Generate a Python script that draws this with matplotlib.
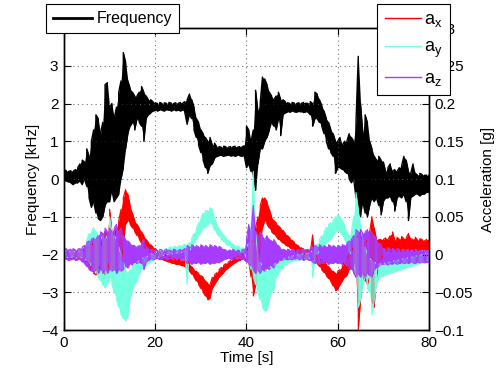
import numpy as np
import matplotlib
matplotlib.use("Agg")
import matplotlib.pyplot as plt
from matplotlib.lines import Line2D

plt.rcParams['font.family'] = ['Liberation Sans', 'DejaVu Sans']
plt.rcParams['font.size'] = 11
plt.rcParams['mathtext.fontset'] = 'custom'
plt.rcParams['mathtext.rm'] = 'Liberation Sans'

# ---------------- data (0.5 s sampling of envelopes, 0 .. 80 s) ----------------
freq_lo = [
    -0.05,-0.05,-0.08,-0.10,-0.15,-0.10,-0.10,-0.05,-0.15,0.00,
    -0.20,-0.50,-0.75,-0.60,-0.90,-1.05,-1.10,-1.00,-0.70,-0.60,
    -0.60,-0.30,-0.60,-0.50,-0.40,0.00,0.30,0.80,1.20,1.40,
    1.50,1.30,1.60,1.50,1.40,1.00,1.60,1.70,1.75,1.80,
    1.82,1.80,1.83,1.82,1.80,1.84,1.82,1.80,1.83,1.81,
    1.82,1.80,1.83,1.75,1.45,1.70,1.60,1.30,1.10,0.90,
    0.70,0.50,0.30,0.15,0.35,0.40,0.55,0.60,0.62,0.63,
    0.60,0.62,0.63,0.61,0.62,0.60,0.63,0.62,0.60,0.62,
    0.30,0.40,0.20,0.10,-0.30,0.40,0.80,0.80,1.00,1.10,
    1.30,1.50,1.40,1.30,1.60,1.15,1.70,1.75,1.78,1.77,
    1.80,1.78,1.77,1.79,1.78,1.76,1.78,1.77,1.70,1.40,
    1.60,1.60,1.50,1.40,1.20,1.00,0.80,0.70,0.60,0.15,
    0.30,0.30,0.25,0.20,0.15,0.00,-0.10,0.00,-0.50,-0.80,
    -1.00,-0.60,-0.90,-1.00,-0.70,-0.50,-0.60,-0.50,-0.70,-0.95,
    -0.60,-0.50,-0.50,-0.45,-0.60,-0.85,-0.50,-0.45,-0.50,-0.40,
    -0.60,-1.10,-0.50,-0.45,-0.40,-0.40,-0.45,-0.40,-0.40,-0.35,
    -0.35]
freq_hi = [
    0.25,0.22,0.20,0.22,0.20,0.25,0.30,0.40,0.50,0.45,
    0.80,0.60,1.00,1.30,1.70,1.60,1.20,1.50,2.50,2.55,
    1.90,2.00,1.60,1.90,2.30,2.60,3.35,3.10,2.60,2.40,
    2.30,2.20,2.20,2.30,2.45,2.30,2.20,2.10,2.10,2.05,
    2.02,2.00,2.03,2.00,2.02,2.00,2.03,2.01,2.00,2.02,
    2.00,2.03,2.01,2.05,2.10,2.25,2.10,1.90,1.60,1.50,
    1.30,1.20,1.10,1.00,1.10,0.90,0.95,0.85,0.86,0.84,
    0.87,0.85,0.84,0.86,0.85,0.87,0.84,0.86,0.85,0.88,
    1.40,1.30,1.00,1.30,2.35,1.80,2.00,2.70,2.65,2.50,
    2.30,2.20,2.10,2.20,2.30,2.10,2.10,2.05,2.02,2.00,
    2.03,2.01,2.00,2.02,2.00,2.03,2.01,2.00,2.05,2.00,
    2.30,2.25,2.10,1.95,1.80,1.60,1.50,1.30,1.20,1.00,
    1.00,1.10,0.90,1.00,1.00,1.20,1.10,1.00,1.50,3.25,
    2.00,1.20,1.70,1.50,1.00,0.80,0.60,0.50,0.60,0.50,
    0.45,0.20,0.30,0.40,0.20,0.25,0.20,0.30,0.35,0.60,
    0.50,0.20,0.15,0.40,0.15,0.10,0.15,0.12,0.10,0.10,
    0.10]

ax_lo = [
    -0.005,-0.004,-0.006,-0.005,-0.004,-0.006,-0.005,-0.004,-0.006,-0.007,
    -0.010,-0.015,-0.020,-0.025,-0.027,-0.020,-0.015,-0.020,-0.027,-0.020,
    -0.010,-0.015,-0.020,-0.025,-0.020,-0.010,0.010,0.040,0.045,0.040,
    0.035,0.030,0.025,0.020,0.015,0.010,0.008,0.005,0.003,0.002,
    0.000,-0.003,-0.005,-0.006,-0.008,-0.009,-0.010,-0.011,-0.012,-0.013,
    -0.013,-0.014,-0.015,-0.016,-0.018,-0.022,-0.026,-0.030,-0.035,-0.040,
    -0.045,-0.050,-0.055,-0.060,-0.058,-0.045,-0.040,-0.035,-0.030,-0.027,
    -0.024,-0.020,-0.018,-0.015,-0.013,-0.011,-0.009,-0.008,-0.006,-0.005,
    -0.008,-0.010,-0.030,-0.055,-0.040,-0.010,0.010,0.035,0.045,0.040,
    0.035,0.030,0.027,0.024,0.020,0.018,0.015,0.013,0.011,0.009,
    0.007,0.005,0.004,0.003,0.002,0.001,0.000,-0.001,-0.002,-0.005,
    -0.008,-0.012,-0.016,-0.020,-0.024,-0.028,-0.032,-0.036,-0.042,-0.048,
    -0.046,-0.040,-0.035,-0.030,-0.028,-0.020,-0.015,-0.010,-0.030,-0.100,
    -0.060,-0.030,-0.035,-0.040,-0.030,-0.060,-0.070,-0.030,-0.015,-0.008,
    0.000,0.004,0.006,0.003,0.005,0.007,0.004,0.006,0.003,0.005,
    0.006,0.004,0.007,0.005,0.004,0.006,0.005,0.007,0.005,0.006,
    0.006]
ax_hi = [
    0.004,0.005,0.003,0.004,0.005,0.003,0.004,0.005,0.004,0.006,
    0.008,0.010,0.015,0.012,0.020,0.015,0.010,0.020,0.030,0.025,
    0.060,0.030,0.020,0.035,0.045,0.060,0.075,0.086,0.080,0.065,
    0.055,0.045,0.040,0.035,0.030,0.025,0.020,0.016,0.013,0.010,
    0.008,0.005,0.002,0.000,-0.001,-0.002,-0.003,-0.004,-0.005,-0.006,
    -0.006,-0.007,-0.008,-0.009,-0.008,-0.012,-0.016,-0.020,-0.022,-0.025,
    -0.028,-0.030,-0.035,-0.038,-0.040,-0.030,-0.027,-0.024,-0.020,-0.017,
    -0.014,-0.012,-0.010,-0.008,-0.006,-0.004,-0.003,-0.002,0.000,0.002,
    0.004,0.010,0.015,0.020,0.035,0.050,0.065,0.075,0.075,0.070,
    0.060,0.050,0.045,0.042,0.038,0.035,0.032,0.028,0.025,0.022,
    0.019,0.016,0.013,0.011,0.009,0.007,0.006,0.005,0.004,0.026,
    0.000,-0.003,-0.006,-0.008,-0.010,-0.013,-0.016,-0.020,-0.022,-0.025,
    -0.022,-0.020,-0.015,-0.010,-0.005,0.000,0.005,0.010,0.020,0.026,
    0.020,0.025,0.015,0.020,0.030,0.050,0.035,0.020,0.020,0.020,
    0.020,0.022,0.020,0.025,0.030,0.019,0.023,0.020,0.024,0.021,
    0.022,0.028,0.021,0.020,0.023,0.019,0.021,0.020,0.018,0.020,
    0.019]

ay_lo = [
    -0.004,-0.003,-0.005,-0.004,-0.003,-0.005,-0.004,-0.003,-0.005,-0.006,
    -0.008,-0.010,-0.015,-0.020,-0.025,-0.030,-0.035,-0.040,-0.044,-0.040,
    -0.030,-0.040,-0.050,-0.060,-0.070,-0.080,-0.085,-0.088,-0.083,-0.060,
    -0.045,-0.040,-0.035,-0.025,-0.020,-0.018,-0.015,-0.012,-0.010,-0.008,
    -0.006,-0.004,-0.003,-0.002,-0.001,0.000,0.000,0.001,0.001,0.002,
    0.002,0.003,0.003,0.004,-0.040,0.005,0.010,0.015,0.020,0.025,
    0.030,0.035,0.036,0.040,0.042,0.040,0.032,0.028,0.024,0.020,
    0.017,0.014,0.012,0.010,0.008,0.006,0.005,0.004,0.003,0.002,
    -0.005,-0.010,-0.020,-0.030,-0.040,-0.050,-0.060,-0.070,-0.075,-0.074,
    -0.060,-0.050,-0.046,-0.030,-0.025,-0.020,-0.017,-0.014,-0.012,-0.010,
    -0.009,-0.008,-0.008,-0.007,-0.007,-0.006,-0.006,-0.005,-0.005,-0.030,
    -0.003,0.000,0.005,0.010,0.012,0.015,0.018,0.020,0.025,0.030,
    0.032,0.030,0.025,0.020,0.015,0.005,0.000,-0.010,-0.030,-0.070,
    -0.060,-0.040,-0.030,-0.045,-0.050,-0.080,-0.060,-0.040,-0.030,-0.030,
    -0.028,-0.027,-0.026,-0.025,-0.024,-0.023,-0.022,-0.021,-0.020,-0.019,
    -0.018,-0.017,-0.016,-0.015,-0.014,-0.013,-0.012,-0.011,-0.010,-0.008,
    -0.007]
ay_hi = [
    0.004,0.005,0.003,0.004,0.005,0.003,0.004,0.005,0.008,0.012,
    0.020,0.028,0.030,0.036,0.030,0.025,0.020,0.025,0.020,0.025,
    0.050,0.030,0.025,0.020,0.010,0.000,-0.010,-0.020,-0.025,-0.020,
    -0.015,-0.012,-0.010,-0.008,-0.005,-0.004,-0.003,-0.002,0.000,0.001,
    0.002,0.004,0.005,0.006,0.007,0.008,0.009,0.010,0.010,0.011,
    0.011,0.012,0.012,0.014,0.012,0.016,0.022,0.028,0.035,0.042,
    0.048,0.055,0.058,0.058,0.062,0.060,0.048,0.040,0.034,0.030,
    0.026,0.022,0.019,0.016,0.014,0.012,0.011,0.010,0.009,0.008,
    0.010,0.015,0.030,0.110,0.030,0.000,-0.010,-0.015,-0.020,-0.022,
    -0.018,-0.015,-0.013,-0.011,-0.010,-0.008,-0.006,-0.005,-0.004,-0.003,
    -0.002,-0.001,-0.001,0.000,0.000,0.001,0.001,0.002,0.003,0.005,
    0.010,0.014,0.020,0.025,0.030,0.036,0.040,0.042,0.045,0.050,
    0.053,0.050,0.045,0.038,0.030,0.025,0.030,0.050,0.082,0.060,
    0.040,0.020,0.010,0.000,-0.005,-0.008,-0.010,-0.012,-0.013,-0.012,
    -0.012,-0.011,-0.010,-0.010,-0.009,-0.008,-0.008,-0.007,-0.006,-0.006,
    -0.005,-0.004,-0.004,-0.003,-0.002,-0.002,-0.001,0.000,0.001,0.002,
    0.002]

az_lo = [
    -0.007,-0.006,-0.008,-0.007,-0.006,-0.008,-0.007,-0.006,-0.010,-0.012,
    -0.016,-0.020,-0.022,-0.024,-0.020,-0.025,-0.020,-0.025,-0.020,-0.025,
    -0.020,-0.022,-0.020,-0.025,-0.020,-0.022,-0.020,-0.015,-0.018,-0.012,
    -0.014,-0.010,-0.012,-0.010,-0.012,-0.020,-0.010,-0.008,-0.006,-0.007,
    -0.006,-0.005,-0.007,-0.006,-0.005,-0.007,-0.006,-0.005,-0.007,-0.006,
    -0.005,-0.007,-0.006,-0.008,-0.012,-0.010,-0.013,-0.011,-0.012,-0.010,
    -0.013,-0.011,-0.012,-0.010,-0.013,-0.011,-0.012,-0.010,-0.011,-0.009,
    -0.007,-0.006,-0.005,-0.006,-0.007,-0.005,-0.006,-0.005,-0.006,-0.007,
    -0.010,-0.012,-0.015,-0.020,-0.025,-0.020,-0.025,-0.020,-0.022,-0.018,
    -0.020,-0.015,-0.018,-0.012,-0.010,-0.008,-0.007,-0.006,-0.007,-0.006,
    -0.007,-0.006,-0.005,-0.007,-0.006,-0.008,-0.006,-0.007,-0.008,-0.010,
    -0.012,-0.010,-0.013,-0.011,-0.012,-0.010,-0.013,-0.011,-0.012,-0.010,
    -0.012,-0.011,-0.013,-0.012,-0.015,-0.018,-0.020,-0.025,-0.030,-0.025,
    -0.030,-0.025,-0.030,-0.025,-0.028,-0.030,-0.020,-0.018,-0.015,-0.013,
    -0.013,-0.012,-0.014,-0.012,-0.013,-0.011,-0.013,-0.012,-0.011,-0.012,
    -0.011,-0.012,-0.010,-0.011,-0.012,-0.010,-0.011,-0.010,-0.011,-0.010,
    -0.010]
az_hi = [
    0.007,0.008,0.006,0.007,0.008,0.006,0.007,0.008,0.010,0.012,
    0.016,0.018,0.020,0.022,0.020,0.025,0.030,0.028,0.035,0.030,
    0.035,0.030,0.035,0.040,0.030,0.035,0.025,0.020,0.018,0.015,
    0.012,0.012,0.010,0.012,0.015,0.020,0.010,0.008,0.006,0.007,
    0.006,0.005,0.007,0.006,0.005,0.007,0.006,0.005,0.007,0.006,
    0.005,0.007,0.006,0.008,0.012,0.010,0.013,0.011,0.012,0.010,
    0.013,0.011,0.012,0.010,0.013,0.011,0.012,0.010,0.011,0.009,
    0.007,0.006,0.005,0.006,0.007,0.005,0.006,0.005,0.006,0.007,
    0.020,0.040,0.030,0.065,0.030,0.025,0.030,0.025,0.020,0.025,
    0.020,0.018,0.020,0.015,0.012,0.008,0.007,0.006,0.007,0.006,
    0.007,0.006,0.005,0.007,0.006,0.008,0.006,0.007,0.008,0.010,
    0.012,0.010,0.013,0.011,0.012,0.010,0.013,0.011,0.012,0.010,
    0.012,0.011,0.013,0.012,0.015,0.018,0.020,0.025,0.033,0.030,
    0.033,0.028,0.030,0.033,0.028,0.030,0.025,0.020,0.015,0.013,
    0.008,0.007,0.009,0.007,0.008,0.006,0.008,0.007,0.006,0.007,
    0.006,0.007,0.005,0.006,0.007,0.005,0.006,0.005,0.006,0.005,
    0.005]

time_s = np.linspace(0, 80, len(freq_lo))

x_ticks = [0, 20, 40, 60, 80]
freq_ticks = [-4, -3, -2, -1, 0, 1, 2, 3, 4]
acc_ticks = [-0.1, -0.05, 0, 0.05, 0.1, 0.15, 0.2, 0.25, 0.3]
acc_tick_labels = ['\u22120.1', '\u22120.05', '0', '0.05', '0.1', '0.15', '0.2', '0.25', '0.3']

# ---------------- figure ----------------
fig = plt.figure(figsize=(4.98, 3.74), dpi=100)
ax = fig.add_axes([0.1285, 0.1176, 0.7329, 0.8075])
ax2 = ax.twinx()


def band(axis, t, lo, hi, color, lw=0.8):
    lo = np.asarray(lo, float)
    hi = np.asarray(hi, float)
    axis.fill_between(t, lo, hi, color=color, lw=0)
    ys = np.where(np.arange(len(t)) % 2 == 0, 1, 0)
    first = np.where(ys == 1, lo, hi)
    second = np.where(ys == 1, hi, lo)
    xx = np.repeat(t, 2)
    yy = np.column_stack([first, second]).ravel()
    axis.plot(xx, yy, color=color, lw=lw)


band(ax, time_s, freq_lo, freq_hi, 'black', lw=1.0)

red = '#ff0000'
cyan = '#73ffe0'
purple = '#a63cff'
band(ax2, time_s, ax_lo, ax_hi, red)
band(ax2, time_s, ay_lo, ay_hi, cyan)
band(ax2, time_s, az_lo, az_hi, purple)

ax.set_xlim(0, 80)
ax.set_ylim(-4, 4)
ax2.set_ylim(-0.1, 0.3)
ax.set_xticks(x_ticks)
ax.set_yticks(freq_ticks)
ax2.set_yticks(acc_ticks)
ax2.set_yticklabels(acc_tick_labels)

ax.grid(True, linestyle=(0, (1, 3)), color='0.45', lw=0.8)
ax.tick_params(axis='both', direction='in', length=5, width=0.8, top=True, right=False, pad=4)
ax2.tick_params(axis='y', direction='in', length=5, width=0.8, pad=4)
for a in (ax, ax2):
    for s in a.spines.values():
        s.set_linewidth(1.0)

ax.set_xlabel('Time [s]', labelpad=1)
ax.set_ylabel('Frequency [kHz]', labelpad=1)
ax2.set_ylabel('Acceleration [g]', labelpad=6)

h1 = [Line2D([], [], color='black', lw=2)]
leg1 = ax2.legend(h1, ['Frequency'], loc='upper left', bbox_to_anchor=(0.0924, 0.989),
                  bbox_transform=fig.transFigure, fancybox=False, framealpha=1,
                  edgecolor='black', handlelength=2.4, borderpad=0.45, borderaxespad=0,
                  handletextpad=0.3, fontsize=11.5)
leg1.get_frame().set_linewidth(0.8)
ax2.add_artist(leg1)

h2 = [Line2D([], [], color=c, lw=1) for c in (red, cyan, purple)]
leg2 = ax2.legend(h2, [r'$\mathrm{a_x}$', r'$\mathrm{a_y}$', r'$\mathrm{a_z}$'],
                  loc='upper right', bbox_to_anchor=(0.9036, 0.989),
                  bbox_transform=fig.transFigure, fancybox=False, framealpha=1,
                  edgecolor='black', handlelength=2.0, borderpad=0.4, borderaxespad=0,
                  handletextpad=0.2, labelspacing=0.55, fontsize=13)
leg2.get_frame().set_linewidth(0.8)

fig.savefig('out.png', dpi=100)
